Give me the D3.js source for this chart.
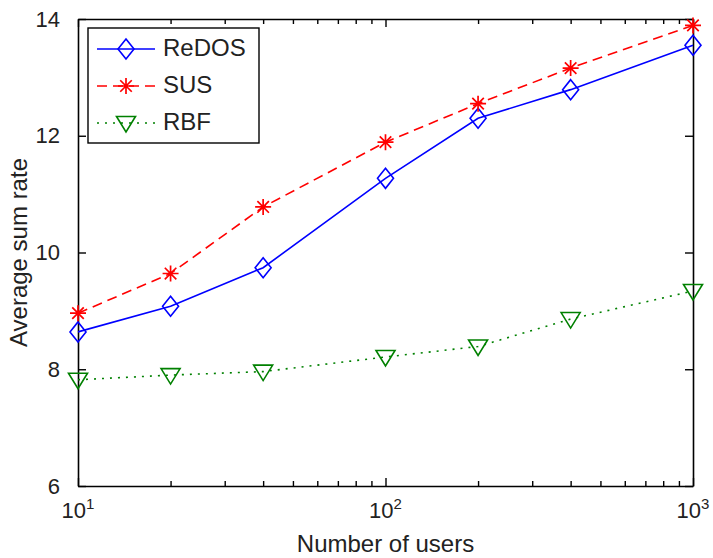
<!DOCTYPE html>
<html lang="en">
  <head>
    <meta charset="UTF-8" />
    <title>Average sum rate vs number of users</title>
    <script src="https://cdn.jsdelivr.net/npm/d3@7"></script>
    <style>
      body {
        margin: 0;
        background-color: white;
      }
      svg {
        font-family: 'Liberation Sans', Arial, sans-serif;
      }
      .axis path {
        stroke: #000;
        stroke-width: 1.6;
      }
      .axis line {
        stroke: #000;
        stroke-width: 1.4;
      }
      .axis text {
        font-size: 22px;
        fill: #222;
      }
    </style>
  </head>
  <body>
    <svg width="713" height="558"></svg>

    <script>
      const users = [10, 20, 40, 100, 200, 400, 1000];
      const redos = [8.64, 9.08, 9.74, 11.27, 12.3, 12.79, 13.55];
      const sus = [8.96, 9.64, 10.78, 11.89, 12.55, 13.16, 13.89];
      const rbf = [7.82, 7.9, 7.96, 8.21, 8.39, 8.86, 9.34];
      const yTicks = [6, 8, 10, 12, 14];
      const xTicks = [10, 100, 1000];
      const xMinor = [20, 30, 40, 50, 60, 70, 80, 90, 200, 300, 400, 500, 600, 700, 800, 900];

      const series = [
        { name: 'ReDOS', values: redos, color: '#0000ff', dash: null, marker: 'diamond' },
        { name: 'SUS', values: sus, color: '#ff0000', dash: '10,6', marker: 'star' },
        { name: 'RBF', values: rbf, color: '#008000', dash: '2,6', marker: 'tri' }
      ];

      const svg = d3.select('svg');
      const margin = { top: 19, right: 20, bottom: 72, left: 78 };
      const width = 713 - margin.left - margin.right;
      const height = 558 - margin.top - margin.bottom;

      const x = d3.scaleLog().domain([10, 1000]).range([0, width]);
      const y = d3.scaleLinear().domain([6, 14]).range([height, 0]);

      const chart = svg
        .append('g')
        .attr('transform', `translate(${margin.left},${margin.top})`);

      // frame axes, ticks pointing inward
      const bottomAxis = chart
        .append('g')
        .attr('class', 'axis')
        .attr('transform', `translate(0,${height})`)
        .call(d3.axisBottom(x).tickValues(xTicks).tickSize(-8).tickSizeOuter(0).tickFormat(''));
      bottomAxis.append('g').call(d3.axisBottom(x).tickValues(xMinor).tickSize(-5).tickSizeOuter(0).tickFormat(''))
        .select('.domain').remove();

      const topAxis = chart
        .append('g')
        .attr('class', 'axis')
        .call(d3.axisTop(x).tickValues(xTicks).tickSize(-8).tickSizeOuter(0).tickFormat(''));
      topAxis.append('g').call(d3.axisTop(x).tickValues(xMinor).tickSize(-5).tickSizeOuter(0).tickFormat(''))
        .select('.domain').remove();

      chart
        .append('g')
        .attr('class', 'axis')
        .call(d3.axisLeft(y).tickValues(yTicks).tickSize(-8).tickSizeOuter(0).tickPadding(18));

      chart
        .append('g')
        .attr('class', 'axis')
        .attr('transform', `translate(${width},0)`)
        .call(d3.axisRight(y).tickValues(yTicks).tickSize(-8).tickSizeOuter(0).tickFormat(''));

      // x tick labels as 10^n
      const xl = chart
        .selectAll('.xlab')
        .data(xTicks)
        .enter()
        .append('text')
        .attr('class', 'xlab')
        .attr('x', (d) => x(d))
        .attr('y', height + 32)
        .attr('text-anchor', 'middle')
        .style('font-size', '22px')
        .style('fill', '#222');
      xl.append('tspan').text('10');
      xl.append('tspan')
        .attr('dy', -9)
        .style('font-size', '15px')
        .text((d) => Math.round(Math.log10(d)));

      // axis titles
      svg
        .append('text')
        .attr('x', margin.left + width / 2)
        .attr('y', 552)
        .attr('text-anchor', 'middle')
        .style('font-size', '24px')
        .style('fill', '#222')
        .text('Number of users');

      svg
        .append('text')
        .attr('transform', `translate(27,${margin.top + height / 2}) rotate(-90)`)
        .attr('text-anchor', 'middle')
        .style('font-size', '24px')
        .style('fill', '#222')
        .text('Average sum rate');

      const line = d3
        .line()
        .x((d, i) => x(users[i]))
        .y((d) => y(d));

      function drawMarker(g, type, color) {
        if (type === 'diamond') {
          g.append('path')
            .attr('d', 'M0,-10L8,0L0,10L-8,0Z')
            .attr('fill', 'none')
            .attr('stroke', color)
            .attr('stroke-width', 1.6);
        } else if (type === 'star') {
          const s = 8;
          const t = s * 0.72;
          g.append('path')
            .attr('d', `M${-s},0H${s}M0,${-s}V${s}M${-t},${-t}L${t},${t}M${-t},${t}L${t},${-t}`)
            .attr('stroke', color)
            .attr('stroke-width', 1.7);
        } else {
          g.append('path')
            .attr('d', 'M-9.5,-6.5L9.5,-6.5L0,9Z')
            .attr('fill', 'none')
            .attr('stroke', color)
            .attr('stroke-width', 1.6);
        }
      }

      series.forEach((s) => {
        chart
          .append('path')
          .datum(s.values)
          .attr('d', line)
          .attr('fill', 'none')
          .attr('stroke', s.color)
          .attr('stroke-width', 1.6)
          .attr('stroke-dasharray', s.dash);

        s.values.forEach((v, i) => {
          const g = chart.append('g').attr('transform', `translate(${x(users[i])},${y(v)})`);
          drawMarker(g, s.marker, s.color);
        });
      });

      // legend
      const legend = chart.append('g').attr('transform', 'translate(10,9)');
      legend
        .append('rect')
        .attr('width', 171)
        .attr('height', 115)
        .attr('fill', 'white')
        .attr('stroke', '#000')
        .attr('stroke-width', 1.4);

      series.forEach((s, i) => {
        const row = legend.append('g').attr('transform', `translate(0,${21 + i * 37})`);
        row.append('line')
          .attr('x1', 9)
          .attr('x2', 67)
          .attr('stroke', s.color)
          .attr('stroke-width', 1.6)
          .attr('stroke-dasharray', s.dash);
        const m = row.append('g').attr('transform', 'translate(38,0)');
        drawMarker(m, s.marker, s.color);
        row.append('text')
          .attr('x', 75)
          .attr('y', 7)
          .style('font-size', '24px')
          .style('fill', '#222')
          .text(s.name);
      });
    </script>
  </body>
</html>
